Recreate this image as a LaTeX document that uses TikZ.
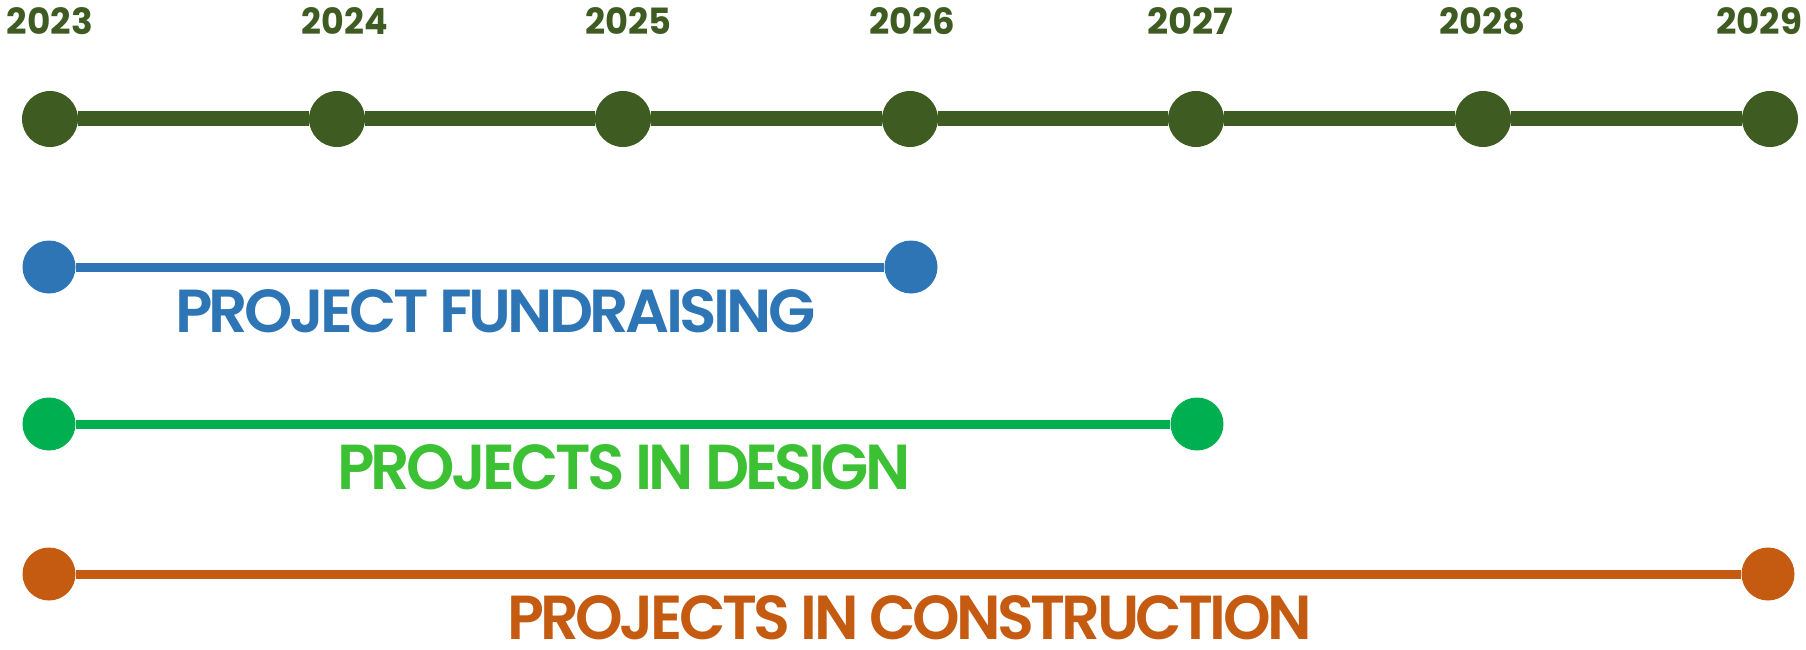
\documentclass[tikz,border=0pt]{standalone}
\usepackage{fontspec}
\setmainfont{Poppins}
\newfontfamily\phasefont[LetterSpace=-6]{Poppins SemiBold}
\usepackage{tikz}
\definecolor{yeargreen}{RGB}{62,92,34}
\definecolor{fundblue}{RGB}{46,117,182}
\definecolor{designgreen}{RGB}{0,176,80}
\definecolor{designtext}{RGB}{60,192,52}
\definecolor{buildorange}{RGB}{197,90,17}
\newcommand{\fitlabel}[3]{\resizebox{#1pt}{#2pt}{#3}}
\tikzstyle{every node}=[inner sep=0pt]
\tikzstyle{yeardot}=[circle,
                     minimum size=56pt,
                     fill=yeargreen]
\tikzstyle{phasedot}=[circle,
                      minimum size=53pt]
\tikzstyle{yearlabel}=[anchor=base,
                       text=yeargreen,
                       font=\bfseries]
\tikzstyle{phaselabel}=[anchor=base west,
                        font=\phasefont]
\begin{document}
\begin{tikzpicture}[x=1pt,y=-1pt]
\useasboundingbox (0,0) rectangle (1806,650);
% timeline
\node (Y23) [yeardot] at (50,119) {};
\node (Y24) [yeardot] at (337,119) {};
\node (Y25) [yeardot] at (623,119) {};
\node (Y26) [yeardot] at (910,119) {};
\node (Y27) [yeardot] at (1196,119) {};
\node (Y28) [yeardot] at (1483,119) {};
\node (Y29) [yeardot] at (1770,119) {};
\node (L23) [yearlabel] at (50,35) {\fitlabel{86}{27}{2023}};
\node (L24) [yearlabel] at (345,35) {\fitlabel{86}{27}{2024}};
\node (L25) [yearlabel] at (628,35) {\fitlabel{86}{27}{2025}};
\node (L26) [yearlabel] at (912,35) {\fitlabel{86}{27}{2026}};
\node (L27) [yearlabel] at (1190,35) {\fitlabel{86}{27}{2027}};
\node (L28) [yearlabel] at (1482,35) {\fitlabel{86}{27}{2028}};
\node (L29) [yearlabel] at (1759,35) {\fitlabel{86}{27}{2029}};
\path[draw=yeargreen,line width=15pt] (Y23) -- (Y24) -- (Y25) -- (Y26) -- (Y27) -- (Y28) -- (Y29);
% fundraising
\node (F1) [phasedot,fill=fundblue] at (49,267) {};
\node (F2) [phasedot,fill=fundblue] at (911,267) {};
\path[draw=fundblue,line width=9pt] (F1) -- (F2);
\node (Ftext) [phaselabel,text=fundblue] at (175,332) {\fitlabel{640}{43}{PROJECT FUNDRAISING}};
% design
\node (D1) [phasedot,fill=designgreen] at (49,424) {};
\node (D2) [phasedot,fill=designgreen] at (1197,424) {};
\path[draw=designgreen,line width=9pt] (D1) -- (D2);
\node (Dtext) [phaselabel,text=designtext] at (337,489) {\fitlabel{573}{45}{PROJECTS IN DESIGN}};
% construction
\node (C1) [phasedot,fill=buildorange] at (49,574) {};
\node (C2) [phasedot,fill=buildorange] at (1768,574) {};
\path[draw=buildorange,line width=9pt] (C1) -- (C2);
\node (Ctext) [phaselabel,text=buildorange] at (507,639) {\fitlabel{804}{44}{PROJECTS IN CONSTRUCTION}};
\end{tikzpicture}
\end{document}
